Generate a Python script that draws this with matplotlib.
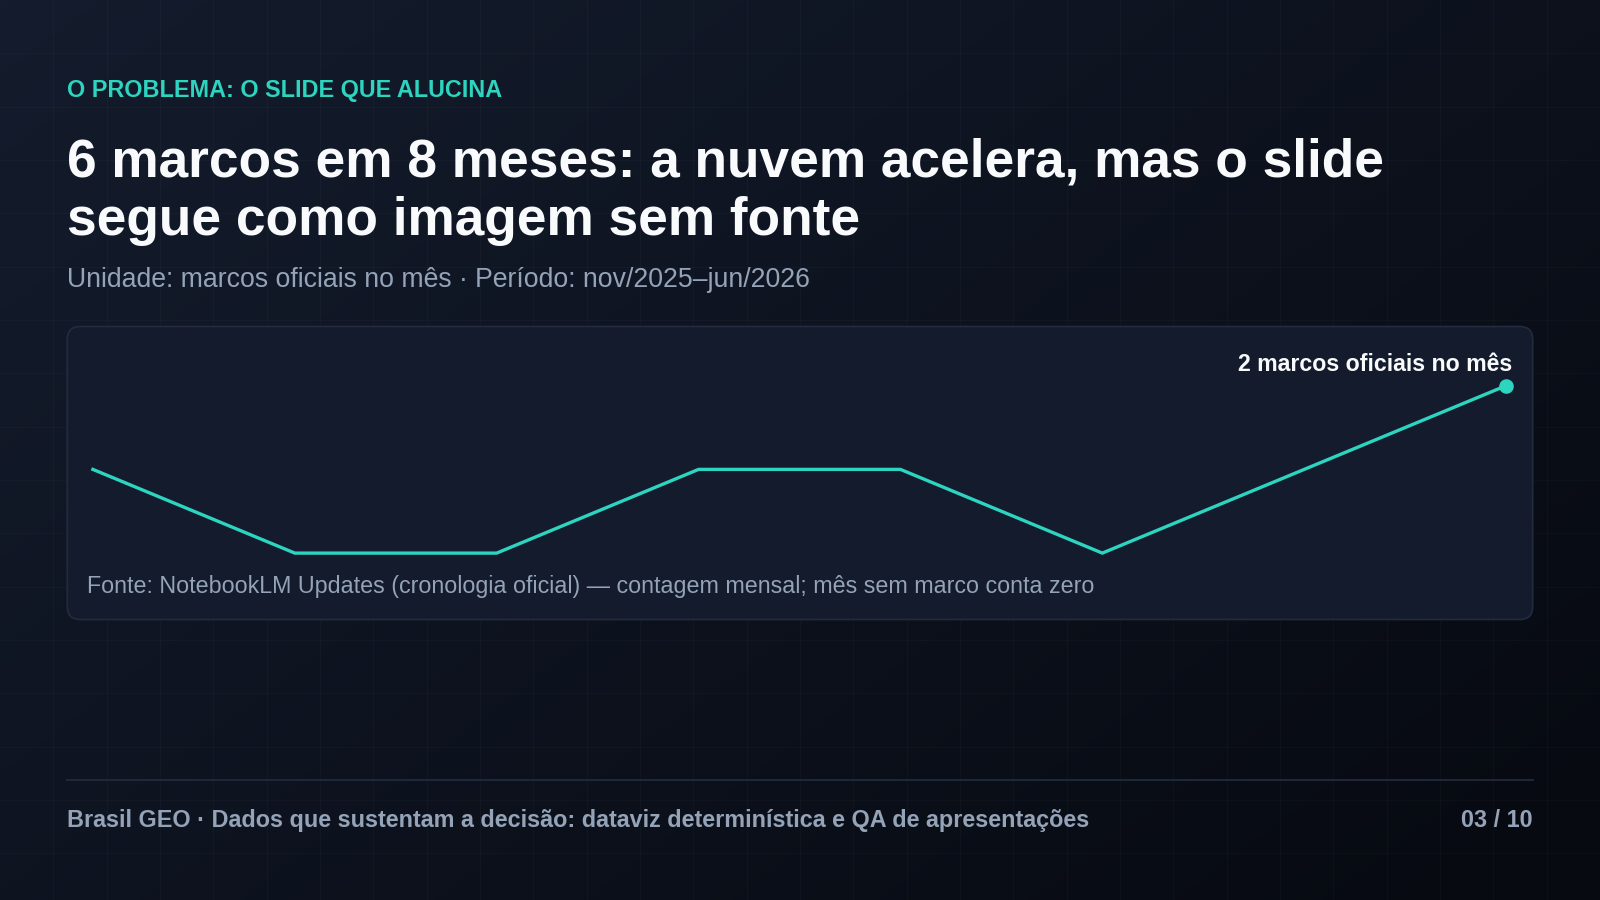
import matplotlib
matplotlib.use("Agg")
import matplotlib.pyplot as plt
import numpy as np
from matplotlib.patches import FancyBboxPatch

plt.rcParams["font.family"] = ["Liberation Sans", "DejaVu Sans"]

# Data: official NotebookLM milestones per month
MONTHS = ["nov/2025", "dez/2025", "jan/2026", "fev/2026",
          "mar/2026", "abr/2026", "mai/2026", "jun/2026"]
MILESTONES = [1, 0, 0, 1, 1, 0, 1, 2]

KICKER = "O PROBLEMA: O SLIDE QUE ALUCINA"
TITLE_1 = "6 marcos em 8 meses: a nuvem acelera, mas o slide"
TITLE_2 = "segue como imagem sem fonte"
SUBTITLE = "Unidade: marcos oficiais no mês · Período: nov/2025–jun/2026"
LAST_LABEL = f"{MILESTONES[-1]} marcos oficiais no mês"
SOURCE = "Fonte: NotebookLM Updates (cronologia oficial) — contagem mensal; mês sem marco conta zero"
FOOTER = "Brasil GEO · Dados que sustentam a decisão: dataviz determinística e QA de apresentações"
PAGE = "03 / 10"

# Colours
TEAL = "#2dd4bf"
WHITE = "#f8fafc"
GREY = "#94a3b8"
CARD = "#131b2c"
CARD_EDGE = "#232c3e"

W, H = 1600, 900
fig = plt.figure(figsize=(16, 9), dpi=100)

# background axes in pixel coordinates
bg = fig.add_axes([0, 0, 1, 1])
bg.set_xlim(0, W)
bg.set_ylim(H, 0)
bg.axis("off")

# diagonal gradient
yy, xx = np.mgrid[0:H:4, 0:W:4]
t = np.clip(0.6 * xx / W + 0.45 * yy / H, 0, 1)
c0 = np.array([0x14, 0x1c, 0x2d]) / 255
c1 = np.array([0x07, 0x0a, 0x11]) / 255
img = c0[None, None, :] * (1 - t[..., None]) + c1[None, None, :] * t[..., None]
bg.imshow(img, extent=[0, W, H, 0], aspect="auto", zorder=0)

# faint grid
step = W / 30
for gx in np.arange(step, W, step):
    bg.axvline(gx, color="white", alpha=0.022, lw=1, zorder=1)
for gy in np.arange(step, H, step):
    bg.axhline(gy, color="white", alpha=0.022, lw=1, zorder=1)

# card
card = FancyBboxPatch((67.3, 326.5), 1465.4, 293, boxstyle="round,pad=0,rounding_size=13",
                      facecolor=CARD, edgecolor=CARD_EDGE, lw=1.2, zorder=2)
bg.add_patch(card)

# texts
bg.text(67.3, 97, KICKER, color=TEAL, fontsize=16.85, fontweight="bold", va="baseline", zorder=5)
bg.text(67.3, 176.5, TITLE_1, color=WHITE, fontsize=38.3, fontweight="bold", va="baseline", zorder=5)
bg.text(67.3, 235.5, TITLE_2, color=WHITE, fontsize=38.3, fontweight="bold", va="baseline", zorder=5)
bg.text(67.3, 286.7, SUBTITLE, color=GREY, fontsize=19.15, va="baseline", zorder=5)
bg.text(86.7, 593.3, SOURCE, color=GREY, fontsize=16.73, va="baseline", zorder=5)
bg.text(1512.7, 370.7, LAST_LABEL, color=WHITE, fontsize=16.7, fontweight="bold",
        ha="right", va="baseline", zorder=5)

# footer
bg.plot([67.3, 1532.7], [780, 780], color="#222b3c", lw=1.3, zorder=3)
bg.text(67.3, 826.7, FOOTER, color=GREY, fontsize=16.85, fontweight="bold", va="baseline", zorder=5)
bg.text(1532.7, 826.7, PAGE, color=GREY, fontsize=16.85, fontweight="bold",
        ha="right", va="baseline", zorder=5)

# line chart
x0, x1 = 92.9, 1506.1
y0, y2 = 553.1, 385.7
ax = fig.add_axes([x0 / W, 1 - y0 / H, (x1 - x0) / W, (y0 - y2) / H])
ax.set_xlim(0, len(MONTHS) - 1)
ax.set_ylim(0, 2)
ax.axis("off")
xs = np.arange(len(MONTHS))
ax.plot(xs, MILESTONES, color=TEAL, lw=2.4, solid_joinstyle="miter", clip_on=False, zorder=4)
ax.plot(xs[-1], MILESTONES[-1], "o", color=TEAL, markersize=9.5, clip_on=False, zorder=5)

fig.savefig("out.png", dpi=100, facecolor="#0b0f18")
